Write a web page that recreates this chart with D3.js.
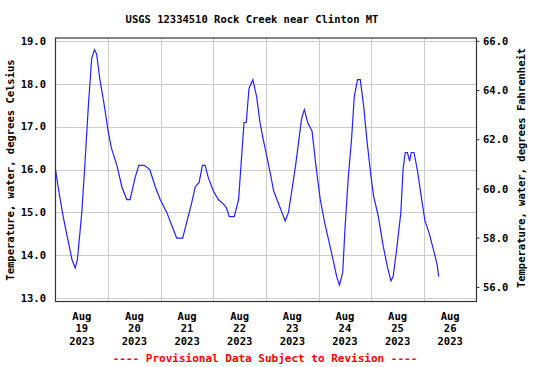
<!DOCTYPE html>
<html>
<head>
<meta charset="utf-8">
<script src="https://cdn.jsdelivr.net/npm/d3@7"></script>
<style>
  body { margin: 0; background: #fff; }
  text { font-family: "DejaVu Sans Mono", monospace; font-weight: bold; }
</style>
</head>
<body>
<div id="chart"></div>
<script>
// water temperature readings (deg C)
var times = [
  "2023-08-19 00:00", "2023-08-19 01:30", "2023-08-19 03:30", "2023-08-19 05:30", "2023-08-19 07:30",
  "2023-08-19 09:00", "2023-08-19 10:00", "2023-08-19 12:00", "2023-08-19 13:30", "2023-08-19 15:00",
  "2023-08-19 16:30", "2023-08-19 17:45", "2023-08-19 18:45", "2023-08-19 20:15", "2023-08-19 22:15",
  "2023-08-20 00:00", "2023-08-20 01:30", "2023-08-20 04:00", "2023-08-20 06:15", "2023-08-20 08:30",
  "2023-08-20 10:00", "2023-08-20 12:15", "2023-08-20 14:00", "2023-08-20 16:30", "2023-08-20 19:00",
  "2023-08-20 21:30", "2023-08-20 23:45", "2023-08-21 02:45", "2023-08-21 05:00", "2023-08-21 07:15",
  "2023-08-21 10:00", "2023-08-21 12:00", "2023-08-21 14:00", "2023-08-21 15:45", "2023-08-21 17:30",
  "2023-08-21 19:00", "2023-08-21 20:15", "2023-08-21 21:45", "2023-08-22 00:00", "2023-08-22 02:15",
  "2023-08-22 04:30", "2023-08-22 06:00", "2023-08-22 07:15", "2023-08-22 09:30", "2023-08-22 11:30",
  "2023-08-22 13:00", "2023-08-22 14:00", "2023-08-22 15:00", "2023-08-22 16:15", "2023-08-22 18:00",
  "2023-08-22 19:45", "2023-08-22 21:15", "2023-08-22 22:45", "2023-08-23 00:00", "2023-08-23 02:00",
  "2023-08-23 03:30", "2023-08-23 05:45", "2023-08-23 07:15", "2023-08-23 08:45", "2023-08-23 10:15",
  "2023-08-23 11:45", "2023-08-23 13:30", "2023-08-23 15:00", "2023-08-23 16:15", "2023-08-23 17:30",
  "2023-08-23 19:00", "2023-08-23 21:00", "2023-08-23 22:45", "2023-08-24 00:45", "2023-08-24 03:00",
  "2023-08-24 05:15", "2023-08-24 07:00", "2023-08-24 08:15", "2023-08-24 09:30", "2023-08-24 11:00",
  "2023-08-24 12:00", "2023-08-24 13:30", "2023-08-24 15:00", "2023-08-24 16:15", "2023-08-24 17:45",
  "2023-08-24 19:00", "2023-08-24 20:30", "2023-08-24 22:00", "2023-08-24 23:45", "2023-08-25 01:00",
  "2023-08-25 03:15", "2023-08-25 05:30", "2023-08-25 07:30", "2023-08-25 09:00", "2023-08-25 10:00",
  "2023-08-25 11:30", "2023-08-25 13:30", "2023-08-25 14:30", "2023-08-25 15:30", "2023-08-25 16:30",
  "2023-08-25 17:30", "2023-08-25 18:15", "2023-08-25 19:30", "2023-08-25 21:00", "2023-08-25 23:00",
  "2023-08-26 00:30", "2023-08-26 02:30", "2023-08-26 04:30", "2023-08-26 06:00", "2023-08-26 06:45"
];
var tempC = [
  16.0, 15.5, 14.9, 14.4, 13.9,
  13.7, 13.9, 15.0, 16.2, 17.5,
  18.6, 18.8, 18.7, 18.1, 17.5,
  16.9, 16.5, 16.1, 15.6, 15.3,
  15.3, 15.8, 16.1, 16.1, 16.0,
  15.6, 15.3, 15.0, 14.7, 14.4,
  14.4, 14.8, 15.2, 15.6, 15.7,
  16.1, 16.1, 15.8, 15.5, 15.3,
  15.2, 15.1, 14.9, 14.9, 15.3,
  16.4, 17.1, 17.1, 17.9, 18.1,
  17.7, 17.1, 16.7, 16.4, 15.9,
  15.5, 15.2, 15.0, 14.8, 15.0,
  15.5, 16.1, 16.7, 17.2, 17.4,
  17.1, 16.9, 16.1, 15.3, 14.7,
  14.2, 13.8, 13.5, 13.3, 13.6,
  14.6, 15.8, 16.7, 17.7, 18.1,
  18.1, 17.5, 16.7, 15.9, 15.4,
  14.9, 14.2, 13.7, 13.4, 13.5,
  14.1, 15.0, 16.0, 16.4, 16.4,
  16.2, 16.4, 16.4, 16.0, 15.3,
  14.8, 14.5, 14.1, 13.8, 13.5
];
var cTicks = [13, 14, 15, 16, 17, 18, 19];
var fTicks = [56, 58, 60, 62, 64, 66];
var dayTicks = ["2023-08-19", "2023-08-20", "2023-08-21", "2023-08-22",
                "2023-08-23", "2023-08-24", "2023-08-25", "2023-08-26"];

var svgWidth = 550;
var svgHeight = 367;
var frame = { left: 55.5, right: 476.5, top: 38, bottom: 301.5 };

var parseTime = d3.timeParse("%Y-%m-%d %H:%M");
var parseDay = d3.timeParse("%Y-%m-%d");

var data = times.map(function(t, i) {
    return { date: parseTime(t), value: tempC[i] };
});
var days = dayTicks.map(parseDay);

var svg = d3.select("#chart")
            .append("svg")
            .attr("width", svgWidth)
            .attr("height", svgHeight);

var xScale = d3.scaleTime()
                .domain([parseDay("2023-08-19"), parseDay("2023-08-27")])
                .range([frame.left, frame.right]);
var yScale = d3.scaleLinear()
                .domain([13, 19])
                .range([298, 41.2]);
var fScale = d3.scaleLinear()
                .domain([56, 66])
                .range([287.4, 41.3]);

// gridlines
var grid = svg.append("g").attr("stroke", "#cccccc").attr("stroke-width", 1);
grid.selectAll(".hg")
    .data(cTicks)
    .enter().append("line")
    .attr("x1", frame.left).attr("x2", frame.right)
    .attr("y1", function(d) { return Math.round(yScale(d)) + 0.5; })
    .attr("y2", function(d) { return Math.round(yScale(d)) + 0.5; });
grid.selectAll(".vg")
    .data(days.slice(1))
    .enter().append("line")
    .attr("y1", frame.top).attr("y2", frame.bottom)
    .attr("x1", function(d) { return Math.round(xScale(d)) + 0.5; })
    .attr("x2", function(d) { return Math.round(xScale(d)) + 0.5; });

// data line
var line = d3.line()
             .x(function(d) { return xScale(d.date); })
             .y(function(d) { return yScale(d.value); });
svg.append("path")
    .datum(data)
    .attr("fill", "none")
    .attr("stroke", "#2222ff")
    .attr("stroke-width", 1.2)
    .attr("d", line);

// frame
svg.append("rect")
    .attr("x", frame.left).attr("y", frame.top)
    .attr("width", frame.right - frame.left)
    .attr("height", frame.bottom - frame.top)
    .attr("fill", "none")
    .attr("stroke", "#333")
    .attr("stroke-width", 1.2);

// left axis labels
svg.append("g")
    .selectAll("text")
    .data(cTicks)
    .enter().append("text")
    .attr("x", 46)
    .attr("y", function(d) { return yScale(d); })
    .attr("dy", "0.35em")
    .attr("text-anchor", "end")
    .attr("font-size", "10.5px")
    .text(function(d) { return d3.format(".1f")(d); });

// right axis
var rightAxis = svg.append("g");
rightAxis.selectAll("line")
    .data(fTicks)
    .enter().append("line")
    .attr("x1", frame.right).attr("x2", frame.right + 3)
    .attr("y1", function(d) { return fScale(d); })
    .attr("y2", function(d) { return fScale(d); })
    .attr("stroke", "#333");
rightAxis.selectAll("text")
    .data(fTicks)
    .enter().append("text")
    .attr("x", 483)
    .attr("y", function(d) { return fScale(d); })
    .attr("dy", "0.35em")
    .attr("font-size", "10.5px")
    .text(function(d) { return d3.format(".1f")(d); });

// date labels at noon
var dateLabels = svg.append("g")
    .selectAll("text")
    .data(days)
    .enter().append("text")
    .attr("text-anchor", "middle")
    .attr("font-size", "10.5px")
    .attr("transform", function(d) {
        return "translate(" + xScale(d3.timeHour.offset(d, 12)) + ",0)";
    });
dateLabels.append("tspan").attr("x", 0).attr("y", 319.5).text(d3.timeFormat("%b"));
dateLabels.append("tspan").attr("x", 0).attr("y", 332).text(function(d) { return d.getDate(); });
dateLabels.append("tspan").attr("x", 0).attr("y", 344.5).text(d3.timeFormat("%Y"));

// titles
svg.append("text")
    .attr("x", 252).attr("y", 23)
    .attr("text-anchor", "middle")
    .attr("font-size", "10.5px")
    .text("USGS 12334510 Rock Creek near Clinton MT");

svg.append("text")
    .attr("transform", "translate(14,170) rotate(-90)")
    .attr("text-anchor", "middle")
    .attr("font-size", "10.5px")
    .text("Temperature, water, degrees Celsius");

svg.append("text")
    .attr("transform", "translate(525,168) rotate(-90)")
    .attr("text-anchor", "middle")
    .attr("font-size", "10.5px")
    .text("Temperature, water, degrees Fahrenheit");

svg.append("text")
    .attr("x", 265).attr("y", 361.5)
    .attr("text-anchor", "middle")
    .attr("font-size", "11px")
    .attr("fill", "#ff0000")
    .text("---- Provisional Data Subject to Revision ----");
</script>
</body>
</html>
